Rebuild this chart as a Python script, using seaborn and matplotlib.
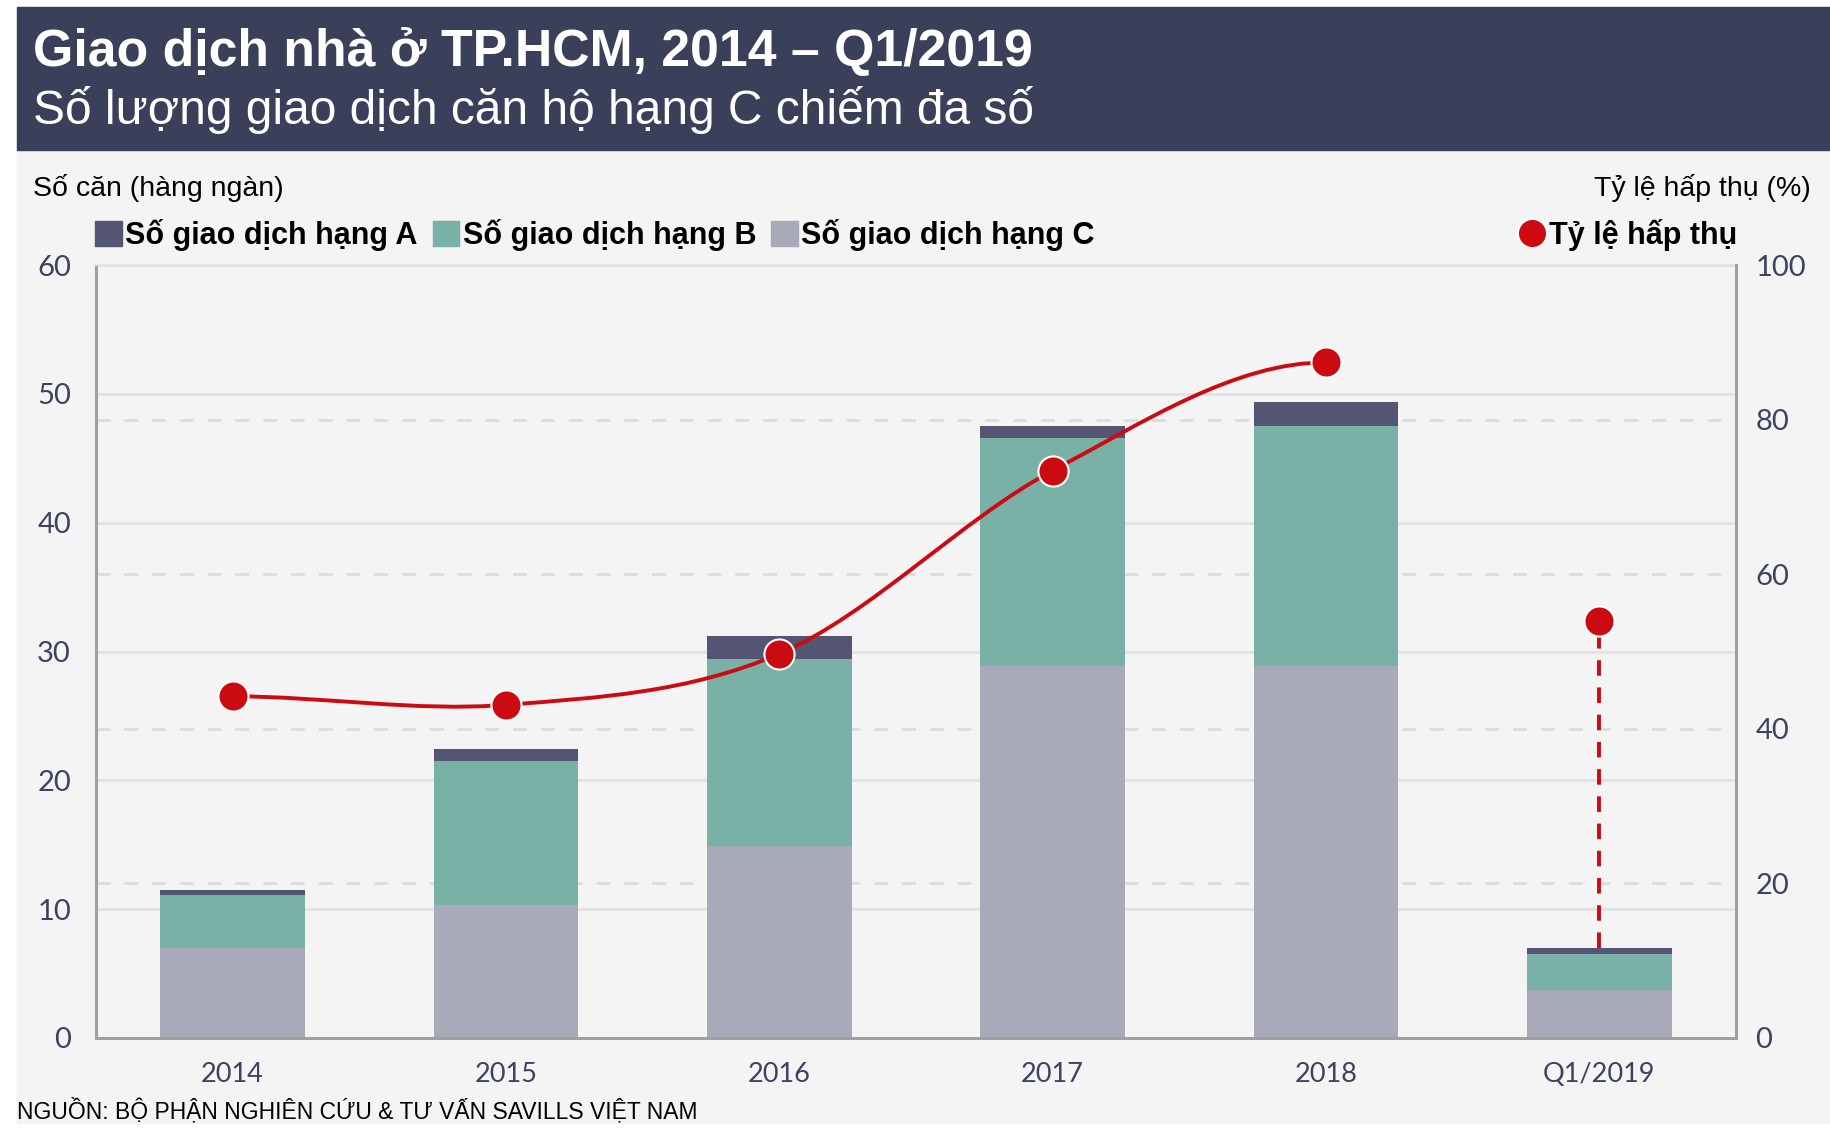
import numpy as np
import pandas as pd
import seaborn as sns
import matplotlib
matplotlib.use('Agg')
import matplotlib.pyplot as plt
from matplotlib.patches import Rectangle, Patch, PathPatch
from matplotlib.lines import Line2D
from matplotlib.path import Path

# data (thousand units / %)
years = ['2014', '2015', '2016', '2017', '2018', 'Q1/2019']
grade_c = [7.0, 10.3, 14.9, 28.9, 28.9, 3.7]
grade_b = [4.1, 11.2, 14.5, 17.7, 18.6, 2.8]
grade_a = [0.4, 0.9, 1.8, 0.9, 1.9, 0.5]
absorption = [44.2, 43.1, 49.7, 73.4, 87.4, 54.0]

left_ticks = [0, 10, 20, 30, 40, 50, 60]
right_ticks = [0, 20, 40, 60, 80, 100]

COL_A = '#535573'
COL_B = '#79b1a7'
COL_C = '#a8a9b9'
RED = '#cc0a12'
NAVY = '#3a4059'
PANEL = '#f4f4f4'
TICK_COL = '#3d4260'

W, H = 1830, 1138
fx = lambda px: px / W
fy = lambda py: 1 - py / H

sns.set_style('white')
plt.rcParams['font.family'] = ['Liberation Sans', 'DejaVu Sans']

df = pd.DataFrame({'year': years, 'c': grade_c, 'b': grade_b, 'a': grade_a})
df['cb'] = df['c'] + df['b']
df['total'] = df['cb'] + df['a']

fig = plt.figure(figsize=(W / 100, H / 100), dpi=100, facecolor='white')

# background panel and title bar
fig.patches.append(Rectangle((fx(17), fy(1123)), 1 - fx(17), fy(150) - fy(1123),
                             transform=fig.transFigure, color=PANEL, zorder=-2))
fig.patches.append(Rectangle((fx(17), fy(150)), 1 - fx(17), fy(7) - fy(150),
                             transform=fig.transFigure, color=NAVY, zorder=-1))

fig.text(fx(33), fy(66), 'Giao dịch nhà ở TP.HCM, 2014 – Q1/2019', color='white',
         fontsize=37.3, fontweight='bold', va='baseline', ha='left')
fig.text(fx(33), fy(124), 'Số lượng giao dịch căn hộ hạng C chiếm đa số', color='white',
         fontsize=34.5, va='baseline', ha='left')
fig.text(fx(33), fy(196), 'Số căn (hàng ngàn)', color='black', fontsize=20.5,
         va='baseline', ha='left')
fig.text(fx(1811), fy(196), 'Tỷ lệ hấp thụ (%)', color='black', fontsize=20.5,
         va='baseline', ha='right')
fig.text(fx(17), fy(1118), 'NGUỒN: BỘ PHẬN NGHIÊN CỨU & TƯ VẤN SAVILLS VIỆT NAM',
         color='black', fontsize=16.5, va='baseline', ha='left')

ax = fig.add_axes([fx(96), fy(1038), fx(1736) - fx(96), fy(265) - fy(1038)])
ax.set_facecolor(PANEL)

# stacked bars: draw cumulative totals from the top layer down
sns.barplot(data=df, x='year', y='total', color=COL_A, width=0.53, saturation=1,
            errorbar=None, ax=ax, zorder=2)
sns.barplot(data=df, x='year', y='cb', color=COL_B, width=0.53, saturation=1,
            errorbar=None, ax=ax, zorder=2)
sns.barplot(data=df, x='year', y='c', color=COL_C, width=0.53, saturation=1,
            errorbar=None, ax=ax, zorder=2)
for p in ax.patches:
    p.set_linewidth(0)

ax.set_xlim(-0.5, len(years) - 0.5)
ax.set_ylim(left_ticks[0], left_ticks[-1])
ax.set_yticks(left_ticks)
ax.set_xlabel('')
ax.set_ylabel('')
ax.set_axisbelow(True)
ax.yaxis.grid(True, color='#e2e2e2', lw=2)
ax.xaxis.grid(False)
# dashed grid of the right axis, kept behind the bars
for t in right_ticks[1:-1]:
    ax.axhline(t * left_ticks[-1] / right_ticks[-1], color='#dcdcdc', lw=2,
               dashes=(5, 5), zorder=0.6)

ax.tick_params(axis='y', length=0, pad=18, labelsize=21, labelcolor=TICK_COL)
ax.tick_params(axis='x', length=0, pad=17, labelsize=19.5, labelcolor=TICK_COL)
for lab in ax.get_xticklabels() + ax.get_yticklabels():
    lab.set_family('Lato')
for side in ['left', 'bottom']:
    ax.spines[side].set_color('#a0a0a0')
    ax.spines[side].set_linewidth(2.2)
ax.spines['top'].set_color('#e2e2e2')
ax.spines['top'].set_linewidth(1.5)
ax.spines['right'].set_visible(False)

ax2 = ax.twinx()
ax2.set_ylim(right_ticks[0], right_ticks[-1])
ax2.set_yticks(right_ticks)
ax2.tick_params(axis='y', length=0, pad=14, labelsize=21, labelcolor=TICK_COL)
for lab in ax2.get_yticklabels():
    lab.set_family('Lato')
for side in ['left', 'bottom', 'top']:
    ax2.spines[side].set_visible(False)
ax2.spines['right'].set_color('#a0a0a0')
ax2.spines['right'].set_linewidth(2.2)
ax2.grid(False)

# smoothed line through 2014-2018 (cubic Bezier segments)
xs = np.arange(len(years) - 1, dtype=float)
ys = np.array(absorption[:-1], dtype=float)
pts = np.column_stack([xs, ys])
tang = np.zeros_like(pts)
for i in range(len(pts)):
    if i == 0 or i == len(pts) - 1:
        tang[i] = [1.0, 0.0]
    else:
        tang[i] = (pts[i + 1] - pts[i - 1]) / 2
verts = [tuple(pts[0])]
codes = [Path.MOVETO]
for i in range(len(pts) - 1):
    verts += [tuple(pts[i] + tang[i] / 3), tuple(pts[i + 1] - tang[i + 1] / 3), tuple(pts[i + 1])]
    codes += [Path.CURVE4] * 3
ax2.add_patch(PathPatch(Path(verts, codes), facecolor='none', edgecolor=RED, lw=2.8, zorder=3))

# dashed drop line from Q1/2019 point to its bar
q = len(years) - 1
bar_top = df['total'].iloc[q] * right_ticks[-1] / left_ticks[-1]
ax2.plot([q, q], [bar_top, absorption[q]], color=RED, lw=2.8, dashes=(4, 3), zorder=3)

sns.scatterplot(x=np.arange(len(years)), y=absorption, ax=ax2, s=470, color=RED,
                edgecolor='white', linewidth=1.5, zorder=4, legend=False)

# legends
leg_font = {'family': ['Liberation Sans', 'DejaVu Sans'], 'weight': 'bold', 'size': 22}
handles = [Patch(color=COL_A), Patch(color=COL_B), Patch(color=COL_C)]
labels = ['Số giao dịch hạng A', 'Số giao dịch hạng B', 'Số giao dịch hạng C']
ax.legend(handles, labels, loc='center left', bbox_to_anchor=(fx(95), fy(235)),
          bbox_transform=fig.transFigure, ncol=3, frameon=False, borderpad=0,
          borderaxespad=0, handlelength=0.88, handleheight=0.88, handletextpad=0.1,
          columnspacing=0.5, prop=leg_font, labelcolor='black')
ax2.legend([Line2D([], [], marker='o', ls='none', markersize=21, color=RED,
                   markeredgecolor='white', markeredgewidth=1.5)],
           ['Tỷ lệ hấp thụ'], loc='center right', bbox_to_anchor=(fx(1737), fy(235)),
           bbox_transform=fig.transFigure, frameon=False, borderpad=0, borderaxespad=0,
           handlelength=0.8, handletextpad=0.15, prop=leg_font, labelcolor='black')

fig.savefig('out.png', dpi=100, facecolor='white')
